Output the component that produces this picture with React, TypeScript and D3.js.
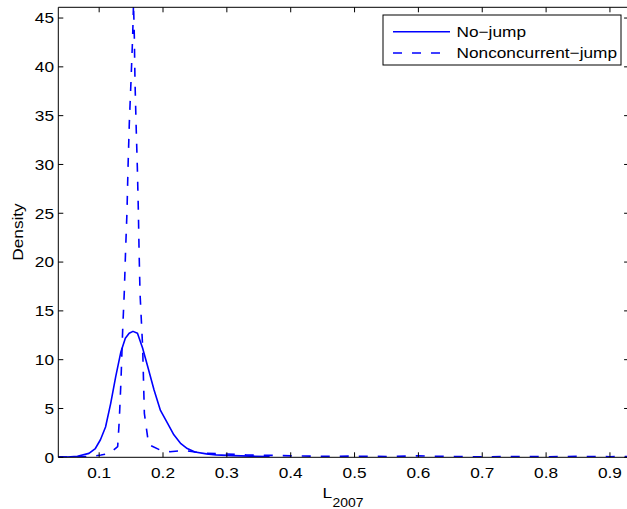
import React from 'react'
import * as d3 from 'd3'

// values
const noJumpX = [0.036, 0.05, 0.066, 0.084, 0.094, 0.102, 0.11, 0.118, 0.126, 0.134, 0.141, 0.147, 0.153, 0.16, 0.168, 0.176, 0.186, 0.196, 0.207, 0.217, 0.228, 0.238, 0.25, 0.268, 0.283, 0.309, 0.336, 0.367]
const noJumpY = [0.02, 0.03, 0.1, 0.4, 0.9, 1.8, 3.1, 5.5, 8.3, 10.8, 12.2, 12.7, 12.9, 12.7, 11.2, 9.3, 6.9, 4.8, 3.5, 2.3, 1.4, 0.9, 0.55, 0.35, 0.25, 0.17, 0.12, 0.08]

const nonconX = [0.036, 0.05, 0.07, 0.09, 0.103, 0.116, 0.129, 0.1315, 0.1342, 0.1368, 0.1394, 0.1414, 0.1436, 0.1452, 0.1472, 0.1499, 0.1524, 0.1538, 0.1551, 0.1561, 0.1578, 0.1598, 0.1614, 0.1625, 0.164, 0.1681, 0.1708, 0.1775, 0.1953, 0.2109, 0.2344, 0.2474, 0.2684, 0.2998, 0.3311, 0.3676, 0.4, 0.45, 0.5, 0.55, 0.6, 0.65, 0.7, 0.75, 0.8, 0.85, 0.9, 0.93]
const nonconY = [0.05, 0.03, 0.05, 0.1, 0.24, 0.4, 1.1, 3.8, 7.9, 13, 17, 21.2, 25.2, 29.7, 34.2, 38.6, 43, 46.5, 43, 38.6, 34.2, 29.7, 25.2, 21.2, 16.8, 11.3, 4.5, 1.3, 0.75, 0.57, 0.7, 0.57, 0.4, 0.34, 0.24, 0.2, 0.15, 0.1, 0.12, 0.08, 0.15, 0.08, 0.05, 0.08, 0.06, 0.1, 0.06, 0.08]

const xTicks = [0.1, 0.2, 0.3, 0.4, 0.5, 0.6, 0.7, 0.8, 0.9]
const yTicks = [0, 5, 10, 15, 20, 25, 30, 35, 40, 45]
const legendLabels = ['No\u2212jump', 'Nonconcurrent\u2212jump']

const W = 627
const H = 509
const left = 58.3
const right = 629.1
const top = 7.3
const bottom = 457.3
const font = 'Liberation Sans, Arial, Helvetica, sans-serif'
const sx = 1.15 // reference glyphs are a bit wider than Arial
const blue = '#0000ff'
const dash = '9,10'

export default function App() {
  const x = d3.scaleLinear().domain([0.036, 0.93]).range([left, right])
  const y = d3.scaleLinear().domain([0, 46.1]).range([bottom, top])

  const line = d3.line<[number, number]>()
    .x(d => x(d[0]))
    .y(d => y(d[1]))

  const noJump = line(noJumpX.map((v, i) => [v, noJumpY[i]] as [number, number])) || ''
  const noncon = line(nonconX.map((v, i) => [v, nonconY[i]] as [number, number])) || ''

  return (
    <svg width={W} height={H} style={{ position: 'fixed', left: 0, top: 0, background: '#fff' }}
      fontFamily={font}>
      <defs>
        <clipPath id="plot">
          <rect x={left} y={top} width={right - left} height={bottom - top} />
        </clipPath>
      </defs>
      <rect x={0} y={0} width={W} height={H} fill="#fff" />

      {/* curves */}
      <g clipPath="url(#plot)" fill="none" stroke={blue} strokeWidth={1.6} strokeLinejoin="round">
        <path d={noJump} />
        <path d={noncon} strokeDasharray={dash} />
      </g>

      {/* axes box */}
      <g stroke="#000" strokeWidth={1} fill="none">
        <line x1={left} x2={right} y1={bottom} y2={bottom} />
        <line x1={left} x2={right} y1={top} y2={top} />
        <line x1={left} x2={left} y1={top} y2={bottom} />
        <line x1={right} x2={right} y1={top} y2={bottom} />
        {xTicks.map(t => (
          <g key={'xt' + t}>
            <line x1={x(t)} x2={x(t)} y1={bottom} y2={bottom - 5} />
            <line x1={x(t)} x2={x(t)} y1={top} y2={top + 5} />
          </g>
        ))}
        {yTicks.map(t => (
          <g key={'yt' + t}>
            <line x1={left} x2={left + 5} y1={y(t)} y2={y(t)} />
            <line x1={right} x2={right - 5} y1={y(t)} y2={y(t)} />
          </g>
        ))}
      </g>

      {/* tick labels */}
      <g fontSize={15} fill="#000">
        {xTicks.map(t => (
          <text key={'xl' + t} transform={`translate(${x(t)},478) scale(${sx},1)`} textAnchor="middle">
            {String(t)}
          </text>
        ))}
        {yTicks.map(t => (
          <text key={'yl' + t} transform={`translate(54,${y(t) + 5.4}) scale(${sx},1)`} textAnchor="end">
            {String(t)}
          </text>
        ))}
      </g>

      {/* axis titles */}
      <text fontSize={15} transform={`translate(23,232) rotate(-90) scale(${sx},1)`} textAnchor="middle">Density</text>
      <text fontSize={15} transform={`translate(322.5,497.7) scale(${sx},1)`}>L</text>
      <text fontSize={12} x={332.5} y={506.7} textLength={31} lengthAdjust="spacingAndGlyphs">2007</text>

      {/* legend */}
      <g>
        <rect x={383} y={15} width={238} height={50} fill="#fff" stroke="#000" strokeWidth={1} />
        {legendLabels.map((lab, i) => {
          const ly = 31.7 + i * 21.3
          return (
            <g key={lab}>
              <line x1={393} x2={450} y1={ly} y2={ly} stroke={blue} strokeWidth={1.6}
                strokeDasharray={i === 1 ? dash : undefined} />
              <text fontSize={15} transform={`translate(456.5,${ly + 5.4}) scale(${sx},1)`}>{lab}</text>
            </g>
          )
        })}
      </g>
    </svg>
  )
}
